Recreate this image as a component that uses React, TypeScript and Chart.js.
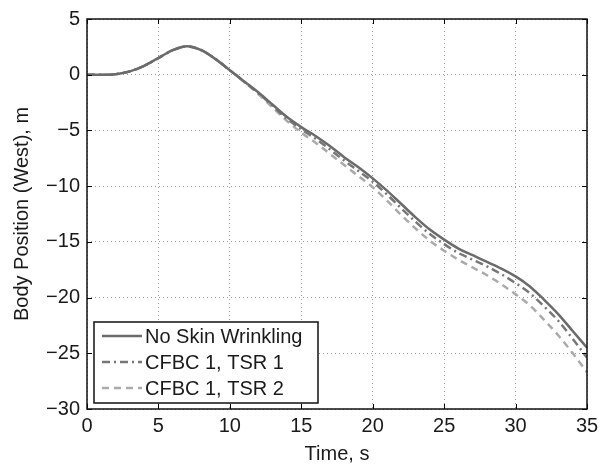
import React, { useEffect, useRef } from "react";
import { Chart, registerables } from "chart.js";

Chart.register(...registerables);

const TIME = [0, 1, 2, 3, 4, 5, 6, 7, 8, 9, 10, 11, 12, 13, 14, 15, 16, 17, 18, 19, 20, 21, 22, 23, 24, 25, 26, 27, 28, 29, 30, 31, 32, 33, 34, 35];
const NO_WRINKLING = [0, 0, 0.05, 0.3, 0.8, 1.5, 2.2, 2.55, 2.2, 1.4, 0.4, -0.6, -1.6, -2.7, -3.8, -4.7, -5.5, -6.4, -7.4, -8.3, -9.3, -10.4, -11.6, -12.8, -13.9, -14.8, -15.6, -16.2, -16.8, -17.4, -18.1, -19.0, -20.2, -21.5, -23.0, -24.5];
const TSR_1 = [0, 0, 0.05, 0.3, 0.8, 1.5, 2.2, 2.55, 2.2, 1.4, 0.4, -0.6, -1.65, -2.8, -3.95, -4.9, -5.75, -6.7, -7.7, -8.65, -9.6, -10.75, -12.0, -13.2, -14.3, -15.2, -16.0, -16.6, -17.2, -17.9, -18.7, -19.6, -20.8, -22.1, -23.7, -25.4];
const TSR_2 = [0, 0, 0.05, 0.3, 0.8, 1.5, 2.2, 2.55, 2.2, 1.4, 0.4, -0.65, -1.75, -2.95, -4.15, -5.2, -6.1, -7.1, -8.1, -9.1, -10.1, -11.3, -12.6, -13.8, -14.9, -15.8, -16.6, -17.3, -18.0, -18.8, -19.7, -20.7, -22.0, -23.4, -25.0, -26.7];

const SERIES_LABELS = ["No Skin Wrinkling", "CFBC 1, TSR 1", "CFBC 1, TSR 2"];
const X_TITLE = "Time, s";
const Y_TITLE = "Body Position (West), m";

const FONT = "'Liberation Sans', Arial, Helvetica, sans-serif";

const fmt = (v: number | string) => {
  const n = Number(v);
  return n < 0 ? "\u2212" + Math.abs(n) : String(n);
};

const framePlugin = {
  id: "frameAndLegend",
  afterDatasetsDraw(chart: any) {
    const { ctx, chartArea } = chart;
    const { left, right, top, bottom } = chartArea;
    const xs = chart.scales.x;
    const ys = chart.scales.y;
    ctx.save();
    // inward ticks
    ctx.strokeStyle = "#000";
    ctx.lineWidth = 1;
    ctx.setLineDash([]);
    const tl = 5;
    xs.ticks.forEach((t: any) => {
      const px = Math.round(xs.getPixelForValue(t.value)) + 0.5;
      ctx.beginPath();
      ctx.moveTo(px, bottom);
      ctx.lineTo(px, bottom - tl);
      ctx.moveTo(px, top);
      ctx.lineTo(px, top + tl);
      ctx.stroke();
    });
    ys.ticks.forEach((t: any) => {
      const py = Math.round(ys.getPixelForValue(t.value)) + 0.5;
      ctx.beginPath();
      ctx.moveTo(left, py);
      ctx.lineTo(left + tl, py);
      ctx.moveTo(right, py);
      ctx.lineTo(right - tl, py);
      ctx.stroke();
    });
    // frame
    ctx.lineWidth = 1.5;
    ctx.strokeStyle = "#111";
    ctx.strokeRect(left, top, right - left, bottom - top);

    // legend
    const bx = left + 7;
    const bw = 224;
    const bh = 81;
    const by = bottom - 6 - bh;
    ctx.fillStyle = "#fff";
    ctx.fillRect(bx, by, bw, bh);
    ctx.lineWidth = 1.5;
    ctx.strokeStyle = "#111";
    ctx.strokeRect(bx, by, bw, bh);
    const rows = [by + 14, by + 40, by + 66];
    chart.data.datasets.forEach((ds: any, i: number) => {
      const y = rows[i];
      ctx.beginPath();
      ctx.strokeStyle = ds.borderColor;
      ctx.lineWidth = ds.borderWidth;
      ctx.setLineDash(ds.borderDash || []);
      ctx.moveTo(bx + 8, y);
      ctx.lineTo(bx + 48, y);
      ctx.stroke();
      ctx.setLineDash([]);
      ctx.fillStyle = "#1a1a1a";
      ctx.font = `20px ${FONT}`;
      ctx.textBaseline = "middle";
      ctx.textAlign = "left";
      ctx.fillText(ds.label, bx + 51, y + 1);
    });
    ctx.restore();
  },
};

export default function App() {
  const ref = useRef<HTMLCanvasElement | null>(null);
  useEffect(() => {
    document.body.style.margin = "0";
    const canvas = ref.current;
    if (!canvas) return;
    const mk = (vals: number[]) => TIME.map((t, i) => ({ x: t, y: vals[i] }));
    const chart = new Chart(canvas, {
      type: "line",
      data: {
        datasets: [
          {
            label: SERIES_LABELS[0],
            data: mk(NO_WRINKLING),
            borderColor: "#6b6b6b",
            borderWidth: 2.5,
            pointRadius: 0,
            cubicInterpolationMode: "monotone",
            fill: false,
          },
          {
            label: SERIES_LABELS[1],
            data: mk(TSR_1),
            borderColor: "#777777",
            borderWidth: 2.5,
            borderDash: [8, 4, 2, 4],
            pointRadius: 0,
            cubicInterpolationMode: "monotone",
            fill: false,
          },
          {
            label: SERIES_LABELS[2],
            data: mk(TSR_2),
            borderColor: "#aaaaaa",
            borderWidth: 2.5,
            borderDash: [7, 5],
            pointRadius: 0,
            cubicInterpolationMode: "monotone",
            fill: false,
          },
        ],
      },
      options: {
        responsive: false,
        animation: false,
        layout: { padding: { top: 15, right: 21, left: 0, bottom: 0 } },
        plugins: { legend: { display: false }, tooltip: { enabled: false } },
        scales: {
          x: {
            type: "linear",
            min: 0,
            max: 35,
            afterFit: (s: any) => {
              s.height = 57;
            },
            ticks: {
              stepSize: 5,
              padding: 5,
              color: "#1a1a1a",
              font: { family: FONT, size: 20 },
              callback: (v: any) => fmt(v),
              maxRotation: 0,
            },
            grid: { color: "#9a9a9a", lineWidth: 1, drawTicks: false },
            border: { display: false, dash: [1, 3] },
            title: {
              display: true,
              text: X_TITLE,
              color: "#1a1a1a",
              font: { family: FONT, size: 20 },
              padding: { top: 0, bottom: 0 },
            },
          },
          y: {
            type: "linear",
            min: -30,
            max: 5,
            afterFit: (s: any) => {
              s.width = 87;
            },
            ticks: {
              stepSize: 5,
              padding: 7,
              color: "#1a1a1a",
              font: { family: FONT, size: 20 },
              callback: (v: any) => fmt(v),
            },
            grid: { color: "#9a9a9a", lineWidth: 1, drawTicks: false },
            border: { display: false, dash: [1, 3] },
            title: {
              display: true,
              text: Y_TITLE,
              color: "#1a1a1a",
              font: { family: FONT, size: 20 },
              padding: { top: 10, bottom: 0 },
            },
          },
        },
      },
      plugins: [framePlugin],
    } as any);
    return () => chart.destroy();
  }, []);
  return <canvas ref={ref} width={608} height={466} style={{ display: "block" }} />;
}
